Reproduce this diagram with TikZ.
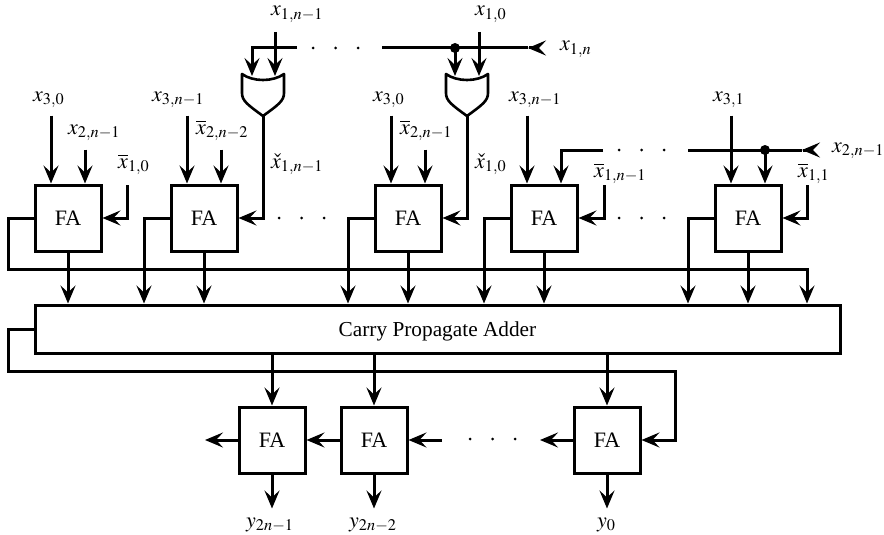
\documentclass[tikz,border=0pt]{standalone}
\usepackage{mathptmx}
\usepackage[no-math]{fontspec}
\setmainfont{Liberation Serif}
\usetikzlibrary{arrows.meta,calc}
\tikzset{
	wire/.style={line width=3pt},
	arr/.style={wire,-{Stealth[length=18pt,width=15pt,inset=7pt]}},
	fa/.style={draw,line width=3pt,minimum size=66pt,inner sep=0pt,font=\fontsize{22}{24}\selectfont},
	lab/.style={anchor=base west,inner sep=0pt,font=\fontsize{22}{24}\selectfont},
	dotdot/.style={fill,circle,inner sep=0pt,minimum size=3pt},
	orgate/.pic={
		\draw[line width=2.6pt,line join=round] (-21,0) .. controls (-10,8) and (10,8) .. (21,0)
			-- (21,19) .. controls (21,27) and (15,31) .. (0,42)
			.. controls (-15,31) and (-21,27) .. (-21,19) -- cycle;
		\coordinate (-tip) at (0,42);
	}
}
\begin{document}
\begin{tikzpicture}[x=1pt,y=-1pt]
	\useasboundingbox (0,0) rectangle (884,535);
	% Adders
	\foreach \name/\x in {faA/68,faB/204,faC/408,faD/544,faE/748}
		\node[fa] (\name) at (\x,218) {FA};
	\foreach \name/\x in {faF/272,faG/374,faH/607}
		\node[fa] (\name) at (\x,440) {FA};
	\node[draw,line width=3pt,minimum width=805pt,minimum height=48pt,inner sep=0pt,text depth=0pt,
		font=\fontsize{21.3}{24}\selectfont] (cpa) at (437.5,329) {Carry Propagate Adder};
	% OR gates
	\pic (orA) at (263,74) {orgate};
	\pic (orB) at (467,74) {orgate};
	% Inputs of the top row
	\foreach \name in {faA,faB,faC,faD,faE}{
		\coordinate (\name in) at ($(\name.north)+(-17,-68)$);
		\draw[arr] (\name in) -- (\name in |- \name.north);
	}
	\foreach \name in {faA,faB,faC}{
		\coordinate (\name mid) at ($(\name.north)+(17,-34)$);
		\draw[arr] (\name mid) -- (\name mid |- \name.north);
	}
	\foreach \name/\x in {faA/127,faD/604,faE/807}{
		\coordinate (\name side) at (\x,185);
		\draw[arr] (\name side) |- (\name.east);
	}
	\draw[arr] (orA-tip) |- (faB.east);
	\draw[arr] (orB-tip) |- (faC.east);
	% First bus
	\coordinate (topL) at (297,48);
	\coordinate (topR) at (382,48);
	\coordinate (topE) at (528,48);
	\coordinate (topJ) at (455,48);
	\coordinate (orAa) at (252,76);
	\coordinate (orAb) at (275,76);
	\coordinate (orBa) at (455,76);
	\coordinate (orBb) at (479,76);
	\draw[arr] (topL) -| (orAa);
	\draw[arr] (orAb |- 0,32) -- (orAb);
	\draw[wire] (topR) -- (topE);
	\draw[arr] ($(topE)+(1,0)$) -- (topE);
	\draw[arr] (topJ) -- (orBa);
	\draw[arr] (orBb |- 0,32) -- (orBb);
	\fill (topJ) circle[radius=5];
	% Second bus
	\coordinate (midL) at (603,150);
	\coordinate (midR) at (688,150);
	\coordinate (midE) at (802,150);
	\coordinate (midJ) at (765,150);
	\draw[arr] (midL) -| ($(faD.north)+(17,0)$);
	\draw[wire] (midR) -- (midE);
	\draw[arr] ($(midE)+(1,0)$) -- (midE);
	\draw[arr] (midJ) -- (midJ |- faE.north);
	\fill (midJ) circle[radius=5];
	% Carries into the CPA
	\coordinate (busL) at (8,269);
	\coordinate (busR) at (807,269);
	\draw[arr] (faA.west) -| (busL) -- (busR) -- (busR |- cpa.north);
	\foreach \name/\x in {faB/144,faC/348,faD/484,faE/688}{
		\coordinate (\name down) at (\x,218);
		\draw[arr] (\name.west) -- (\name down) -- (\name down |- cpa.north);
	}
	\foreach \name in {faA,faB,faC,faD,faE}
		\draw[arr] (\name.south) -- (\name.south |- cpa.north);
	% Below the CPA
	\coordinate (retL) at (8,371);
	\coordinate (retR) at (675,371);
	\draw[arr] (cpa.west |- 0,329) -| (retL) -- (retR) |- (faH.east);
	\foreach \name in {faF,faG,faH}{
		\draw[arr] (\name.north |- cpa.south) -- (\name.north);
		\coordinate (\name out) at ($(\name.south)+(0,34)$);
		\draw[arr] (\name.south) -- (\name out);
	}
	\coordinate (lowA) at (205,440);
	\coordinate (lowB) at (442,440);
	\coordinate (lowC) at (540,440);
	\draw[arr] (faF.west) -- (lowA);
	\draw[arr] (faG.west) -- (faF.east);
	\draw[arr] (lowB) -- (faG.east);
	\draw[arr] (faH.west) -- (lowC);
	% Dots
	\foreach \x/\y in {313/48,335.5/48,358/48,279/218,301.5/218,324/218,
			619/150,641.5/150,664/150,619/218,641.5/218,664/218,470/439,492.5/439,515/439}
		\node[dotdot] at (\x,\y) {};
	% Labels
	\node[lab] (lxA) at (271,16) {$x_{1,n-1}$};
	\node[lab] (lxB) at (475,16) {$x_{1,0}$};
	\node[lab] (lxC) at (560,51) {$x_{1,n}$};
	\node[lab] (lxD) at (33,101) {$x_{3,0}$};
	\node[lab] (lxE) at (152,101) {$x_{3,n-1}$};
	\node[lab] (lxF) at (373,101) {$x_{3,0}$};
	\node[lab] (lxG) at (509,101) {$x_{3,n-1}$};
	\node[lab] (lxH) at (713,101) {$x_{3,1}$};
	\node[lab] (lxI) at (68,134) {$x_{2,n-1}$};
	\node[lab] (lxJ) at (196,134) {$\overline{x}_{2,n-2}$};
	\node[lab] (lxK) at (400,134) {$\overline{x}_{2,n-1}$};
	\node[lab] (lxL) at (832,152) {$x_{2,n-1}$};
	\node[lab] (lxM) at (118,168) {$\overline{x}_{1,0}$};
	\node[lab] (lxN) at (271,168) {$\check{x}_{1,n-1}$};
	\node[lab] (lxO) at (475,168) {$\check{x}_{1,0}$};
	\node[lab] (lxP) at (594,177) {$\overline{x}_{1,n-1}$};
	\node[lab] (lxQ) at (798,177) {$\overline{x}_{1,1}$};
	\node[lab] (lyA) at (246,527) {$y_{2n-1}$};
	\node[lab] (lyB) at (349,527) {$y_{2n-2}$};
	\node[lab] (lyC) at (597,527) {$y_{0}$};
\end{tikzpicture}
\end{document}
